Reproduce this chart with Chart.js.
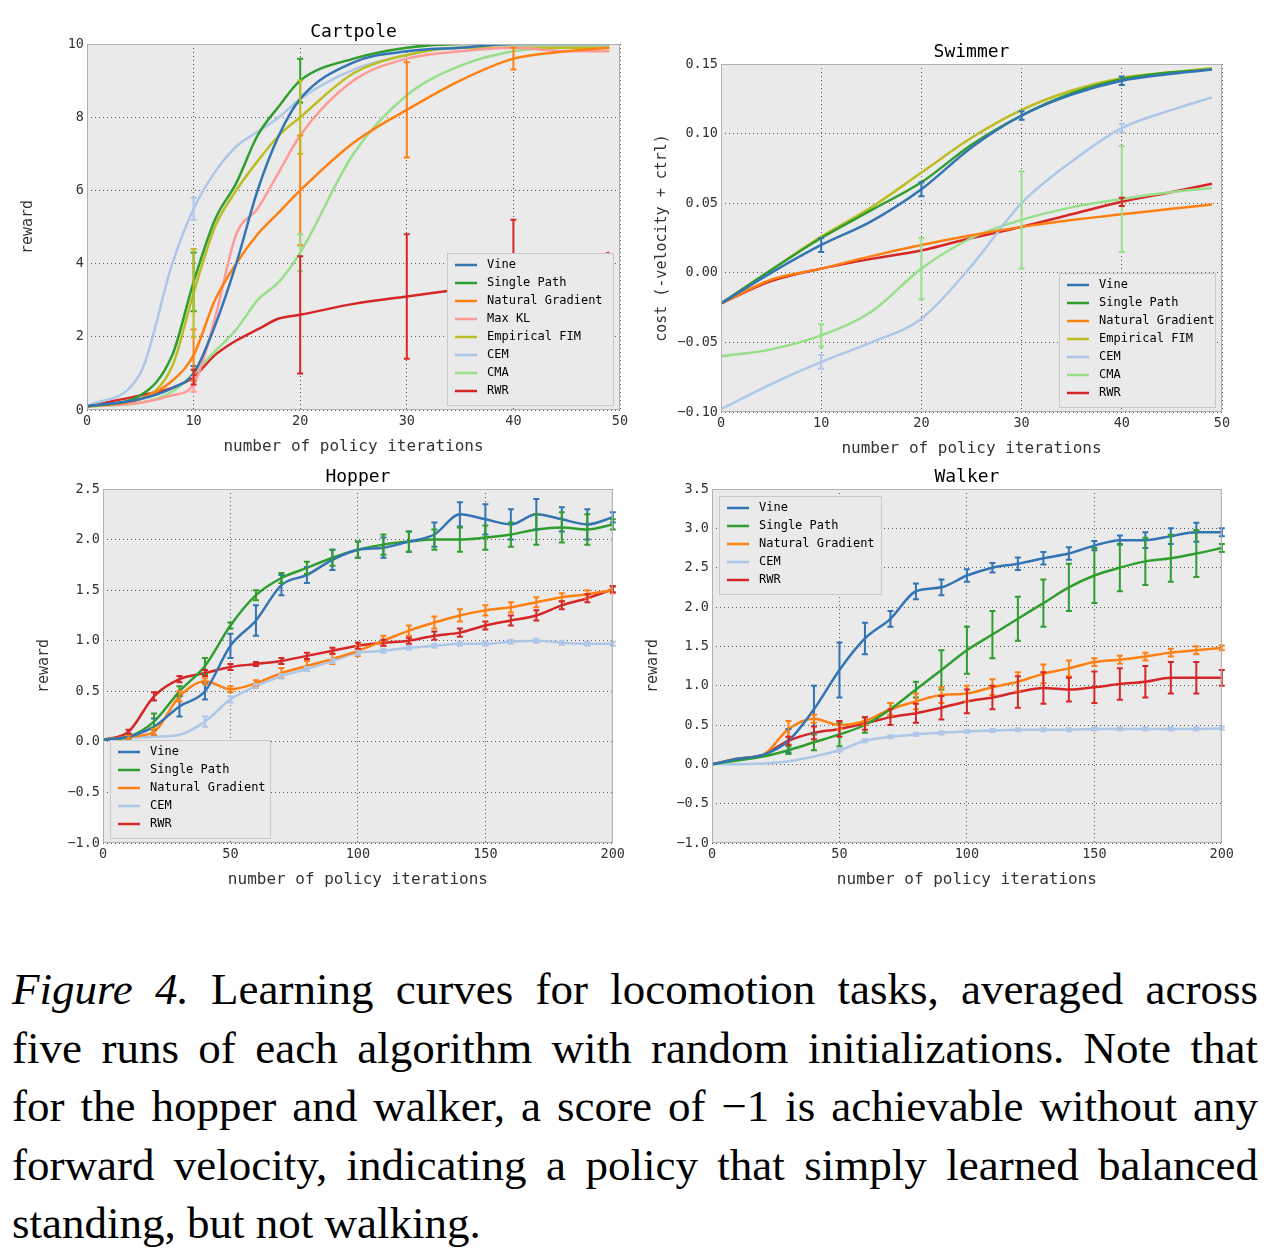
<!DOCTYPE html>
<html>
<head>
<meta charset="utf-8">
<script src="https://cdn.jsdelivr.net/npm/chart.js@4/dist/chart.umd.min.js"></script>
<style>
  body { margin: 0; background: #fff; width: 1276px; height: 1254px; position: relative; overflow: hidden; }
  canvas { position: absolute; }
  #caption { position: absolute; left: 12px; top: 960px; width: 1246px; font-family: "Liberation Serif", serif; font-size: 45px; line-height: 58.5px; color: #000; }
  #caption div { text-align: justify; text-align-last: justify; white-space: nowrap; }
  #caption div.last { text-align-last: left; }
</style>
</head>
<body>
<canvas id="cartpole"></canvas>
<canvas id="swimmer"></canvas>
<canvas id="hopper"></canvas>
<canvas id="walker"></canvas>
<div id="caption">
  <div><i>Figure 4.</i> Learning curves for locomotion tasks, averaged across</div>
  <div>five runs of each algorithm with random initializations. Note that</div>
  <div>for the hopper and walker, a score of −1 is achievable without any</div>
  <div>forward velocity, indicating a policy that simply learned balanced</div>
  <div class="last">standing, but not walking.</div>
</div>
<script>
// colours per algorithm
const colors = {
  "Vine": "#3274b4", "Single Path": "#2f9e2f", "Natural Gradient": "#ff8012",
  "Max KL": "#ff9a96", "Empirical FIM": "#bcbd22", "CEM": "#aec7e8",
  "CMA": "#98df8a", "RWR": "#d62728"
};

// ---- Cartpole ----
const cartX = [0, 5, 8, 10, 12, 14, 16, 18, 20, 25, 30, 35, 40, 45, 49];
const cartVine = [0.1, 0.3, 0.6, 1.0, 2.3, 4, 6, 7.5, 8.5, 9.5, 9.8, 9.9, 10, 10, 10];
const cartSingle = [0.1, 0.4, 1.5, 3.5, 5.2, 6.2, 7.5, 8.3, 9, 9.6, 9.9, 10, 10, 10, 10];
const cartNat = [0.1, 0.3, 0.8, 1.5, 3, 4, 4.8, 5.4, 6, 7.3, 8.2, 9, 9.6, 9.8, 9.9];
const cartMaxKL = [0.1, 0.2, 0.4, 0.7, 2.5, 4.8, 5.5, 6.5, 7.5, 9, 9.6, 9.8, 9.9, 9.8, 9.8];
const cartFIM = [0.1, 0.3, 1.2, 3.2, 5, 6, 6.8, 7.5, 8, 9.2, 9.7, 9.9, 9.9, 9.9, 9.9];
const cartCEM = [0.1, 1, 4, 5.5, 6.5, 7.2, 7.6, 8, 8.5, 9.3, 9.7, 9.9, 9.9, 9.9, 9.9];
const cartCMA = [0.1, 0.2, 0.5, 1, 1.6, 2.2, 3, 3.5, 4.3, 7, 8.6, 9.4, 9.8, 9.9, 9.9];
const cartRWR = [0.1, 0.4, 0.6, 0.9, 1.5, 1.9, 2.2, 2.5, 2.6, 2.9, 3.1, 3.3, 3.5, 3.9, 4.3];
const cartErr = {
  "Vine":             [0,0,0,0.2,0,0,0,0,0,0,0,0,0,0,0],
  "Single Path":      [0,0,0,0.8,0,0,0,0,0.6,0,0,0,0,0,0],
  "Natural Gradient": [0,0,0,0.7,0,0,0,0,1.5,0,1.3,0,0.3,0,0],
  "Max KL":           [0,0,0,0.2,0,0,0,0,0,0,0,0,0,0,0],
  "Empirical FIM":    [0,0,0,1.2,0,0,0,0,1.0,0,0,0,0,0,0],
  "CEM":              [0,0,0,0.3,0,0,0,0,0,0,0,0,0,0,0],
  "CMA":              [0,0,0,0,0,0,0,0,0.5,0,0,0,0,0,0],
  "RWR":              [0,0,0,0.2,0,0,0,0,1.6,0,1.7,0,1.7,0,0]
};

// ---- Swimmer ----
const swimX = [0, 5, 10, 15, 20, 25, 30, 35, 40, 45, 49];
const swimVine = [-0.022, 0.0, 0.02, 0.037, 0.06, 0.09, 0.113, 0.128, 0.138, 0.143, 0.146];
const swimSingle = [-0.022, 0.002, 0.025, 0.045, 0.065, 0.092, 0.113, 0.129, 0.139, 0.144, 0.146];
const swimNat = [-0.022, -0.005, 0.003, 0.012, 0.02, 0.027, 0.033, 0.038, 0.042, 0.046, 0.049];
const swimFIM = [-0.022, 0.002, 0.026, 0.047, 0.072, 0.097, 0.117, 0.131, 0.140, 0.144, 0.147];
const swimCEM = [-0.098, -0.08, -0.064, -0.05, -0.033, 0.005, 0.05, 0.08, 0.104, 0.117, 0.126];
const swimCMA = [-0.06, -0.055, -0.045, -0.028, 0.003, 0.025, 0.038, 0.047, 0.053, 0.058, 0.061];
const swimRWR = [-0.022, -0.006, 0.003, 0.01, 0.016, 0.025, 0.033, 0.042, 0.051, 0.058, 0.064];
const swimErr = {
  "Vine": [0,0,0.005,0,0.005,0,0.003,0,0.003,0,0],
  "CEM":  [0,0,0.005,0,0,0,0,0,0.003,0,0],
  "CMA":  [0,0,0.008,0,0.022,0,0.035,0,0.038,0,0],
  "RWR":  [0,0,0,0,0,0,0,0,0.003,0,0]
};

// ---- Hopper ----
const hopX = [0, 10, 20, 30, 40, 50, 60, 70, 80, 90, 100, 110, 120, 130, 140, 150, 160, 170, 180, 190, 200];
const hopVine = [0.02, 0.05, 0.15, 0.35, 0.5, 0.95, 1.2, 1.55, 1.65, 1.8, 1.9, 1.92, 1.98, 2.05, 2.25, 2.2, 2.15, 2.25, 2.2, 2.15, 2.22];
const hopSingle = [0.02, 0.05, 0.2, 0.5, 0.75, 1.15, 1.45, 1.62, 1.72, 1.82, 1.9, 1.95, 1.98, 2.0, 2.0, 2.02, 2.05, 2.1, 2.12, 2.1, 2.15];
const hopNat = [0.02, 0.05, 0.1, 0.45, 0.6, 0.52, 0.58, 0.68, 0.75, 0.82, 0.9, 1.0, 1.1, 1.18, 1.25, 1.3, 1.33, 1.38, 1.43, 1.46, 1.5];
const hopCEM = [0.02, 0.04, 0.05, 0.07, 0.2, 0.42, 0.55, 0.65, 0.72, 0.8, 0.88, 0.9, 0.93, 0.95, 0.97, 0.97, 0.99, 1.0, 0.98, 0.97, 0.97];
const hopRWR = [0.02, 0.1, 0.45, 0.62, 0.68, 0.74, 0.77, 0.8, 0.85, 0.9, 0.95, 0.98, 1.0, 1.05, 1.08, 1.15, 1.2, 1.25, 1.35, 1.42, 1.51];
const hopErr = {
  "Vine":             [0,0.03,0.08,0.1,0.08,0.12,0.15,0.1,0.08,0.1,0.08,0.1,0.1,0.12,0.12,0.15,0.15,0.15,0.12,0.15,0.05],
  "Single Path":      [0,0.03,0.08,0.05,0.08,0.03,0.05,0.05,0.06,0.08,0.08,0.1,0.1,0.1,0.12,0.12,0.12,0.15,0.15,0.15,0.05],
  "Natural Gradient": [0,0.02,0.03,0.05,0.03,0.03,0.03,0.05,0.05,0.05,0.05,0.05,0.05,0.06,0.06,0.05,0.05,0.05,0.04,0.04,0.03],
  "CEM":              [0,0,0,0,0.05,0.03,0.02,0.02,0.02,0.02,0.02,0.02,0.02,0.02,0.02,0.02,0.02,0.02,0.02,0.02,0.02],
  "RWR":              [0,0.02,0.04,0.03,0.03,0.03,0.02,0.03,0.03,0.03,0.03,0.03,0.03,0.04,0.04,0.04,0.05,0.05,0.04,0.04,0.03]
};

// ---- Walker ----
const walkX = [0, 10, 20, 30, 40, 50, 60, 70, 80, 90, 100, 110, 120, 130, 140, 150, 160, 170, 180, 190, 200];
const walkVine = [0, 0.07, 0.12, 0.3, 0.7, 1.2, 1.6, 1.85, 2.2, 2.25, 2.4, 2.5, 2.55, 2.62, 2.68, 2.78, 2.85, 2.85, 2.9, 2.95, 2.95];
const walkSingle = [0, 0.05, 0.1, 0.18, 0.28, 0.38, 0.5, 0.7, 0.95, 1.2, 1.45, 1.65, 1.85, 2.05, 2.25, 2.4, 2.5, 2.58, 2.62, 2.68, 2.75];
const walkNat = [0, 0.07, 0.12, 0.45, 0.58, 0.5, 0.55, 0.7, 0.8, 0.88, 0.9, 0.98, 1.05, 1.15, 1.22, 1.3, 1.33, 1.37, 1.42, 1.45, 1.48];
const walkCEM = [0, 0, 0.01, 0.04, 0.1, 0.18, 0.3, 0.35, 0.38, 0.4, 0.42, 0.43, 0.44, 0.44, 0.44, 0.45, 0.45, 0.45, 0.45, 0.45, 0.46];
const walkRWR = [0, 0.07, 0.12, 0.3, 0.4, 0.45, 0.52, 0.6, 0.65, 0.72, 0.8, 0.85, 0.92, 0.97, 0.95, 0.98, 1.02, 1.05, 1.1, 1.1, 1.1];
const walkErr = {
  "Vine":             [0,0,0,0.15,0.3,0.35,0.2,0.1,0.1,0.1,0.08,0.06,0.08,0.08,0.08,0.06,0.06,0.1,0.1,0.12,0.05],
  "Single Path":      [0,0,0,0.05,0.1,0.15,0.1,0.08,0.1,0.25,0.3,0.3,0.28,0.3,0.3,0.35,0.3,0.3,0.3,0.3,0.05],
  "Natural Gradient": [0,0,0,0.1,0.05,0.05,0.05,0.08,0.1,0.1,0.1,0.1,0.12,0.12,0.1,0.05,0.05,0.05,0.05,0.05,0.03],
  "CEM":              [0,0,0,0,0,0.02,0.02,0.02,0.02,0.02,0.02,0.02,0.02,0.02,0.02,0.02,0.02,0.02,0.02,0.02,0.02],
  "RWR":              [0,0,0,0.05,0.08,0.1,0.08,0.1,0.12,0.15,0.15,0.15,0.2,0.2,0.15,0.2,0.2,0.2,0.2,0.2,0.1]
};

const MONO = "'DejaVu Sans Mono', monospace";
const fmtMinus = s => s.replace('-', '\u2212');

const frame = {
  id: 'frame',
  beforeDraw(chart) {
    const { ctx, chartArea: a } = chart;
    ctx.save();
    ctx.fillStyle = '#eaeaea';
    ctx.fillRect(a.left, a.top, a.right - a.left, a.bottom - a.top);
    ctx.restore();
  },
  afterDatasetsDraw(chart) {
    const { ctx } = chart;
    const xs = chart.scales.x, ys = chart.scales.y;
    // error bars
    chart.data.datasets.forEach(ds => {
      if (!ds.err) return;
      ctx.save();
      ctx.strokeStyle = ds.borderColor;
      ctx.lineWidth = 2;
      ds.data.forEach((p, i) => {
        const e = ds.err[i];
        if (!e) return;
        const px = xs.getPixelForValue(p.x);
        const y1 = ys.getPixelForValue(p.y - e), y2 = ys.getPixelForValue(p.y + e);
        ctx.beginPath();
        ctx.moveTo(px, y1); ctx.lineTo(px, y2);
        ctx.moveTo(px - 3, y1); ctx.lineTo(px + 3, y1);
        ctx.moveTo(px - 3, y2); ctx.lineTo(px + 3, y2);
        ctx.stroke();
      });
      ctx.restore();
    });
  },
  afterDraw(chart) {
    const { ctx, chartArea: a } = chart;
    const o = chart.options.plugins.frame;
    ctx.save();
    ctx.strokeStyle = '#b0b0b0';
    ctx.lineWidth = 1;
    ctx.strokeRect(a.left + 0.5, a.top + 0.5, a.right - a.left - 1, a.bottom - a.top - 1);
    // title
    ctx.fillStyle = '#000';
    ctx.font = '18px ' + MONO;
    ctx.textAlign = 'center';
    ctx.textBaseline = 'bottom';
    ctx.fillText(o.title, (a.left + a.right) / 2, a.top - 3);
    // legend
    const labels = chart.data.datasets.map(d => d.label);
    ctx.font = '12px ' + MONO;
    const lh = 18, w = o.legendW, h = labels.length * lh + 8;
    let lx, ly;
    if (o.legendPos === 'lr') { lx = a.right - w - 7; ly = a.bottom - h - 5; }
    else if (o.legendPos === 'll') { lx = a.left + 7; ly = a.bottom - h - 5; }
    else { lx = a.left + 7; ly = a.top + 7; }
    ctx.fillStyle = '#eaeaea';
    ctx.strokeStyle = '#c8c8c8';
    ctx.fillRect(lx, ly, w, h);
    ctx.strokeRect(lx + 0.5, ly + 0.5, w, h);
    ctx.textAlign = 'left';
    ctx.textBaseline = 'middle';
    chart.data.datasets.forEach((d, i) => {
      const cy = ly + 12 + i * lh;
      ctx.strokeStyle = d.borderColor;
      ctx.lineWidth = 2.5;
      ctx.beginPath(); ctx.moveTo(lx + 8, cy); ctx.lineTo(lx + 30, cy); ctx.stroke();
      ctx.fillStyle = '#000';
      ctx.fillText(d.label, lx + 40, cy);
    });
    ctx.restore();
  }
};

function makeChart(id, box, opt) {
  const padL = 72, padT = 30, padR = 12, padB = 50;
  const cv = document.getElementById(id);
  const w = box.right - box.left + padL + padR, h = box.bottom - box.top + padT + padB;
  cv.style.left = (box.left - padL) + 'px';
  cv.style.top = (box.top - padT) + 'px';
  cv.style.width = w + 'px'; cv.style.height = h + 'px';
  cv.width = w; cv.height = h;
  const datasets = opt.series.map(s => ({
    label: s.label,
    data: opt.xs.map((x, i) => ({ x, y: s.values[i] })),
    err: opt.err[s.label],
    borderColor: colors[s.label],
    borderWidth: 2.5,
    pointRadius: 0,
    cubicInterpolationMode: 'monotone',
    fill: false
  }));
  const tickFont = { family: MONO, size: 13.5 };
  return new Chart(cv, {
    type: 'line',
    data: { datasets },
    plugins: [frame],
    options: {
      responsive: false,
      animation: false,
      layout: { padding: { top: padT, right: padR, left: 0, bottom: 0 } },
      plugins: {
        legend: { display: false }, tooltip: { enabled: false },
        frame: { title: opt.title, legendPos: opt.legendPos, legendW: opt.legendW }
      },
      scales: {
        x: {
          type: 'linear', min: opt.xMin, max: opt.xMax,
          ticks: { stepSize: opt.xStep, font: tickFont, color: '#333', maxRotation: 0 },
          grid: { color: '#333', drawTicks: false, lineWidth: 0.8 },
          border: { display: false, dash: [1, 3] },
          title: { display: true, text: 'number of policy iterations', font: { family: MONO, size: 16 }, color: '#333', padding: { top: 2 } },
          afterFit: s => { s.height = padB; }
        },
        y: {
          min: opt.yMin, max: opt.yMax,
          ticks: { stepSize: opt.yStep, font: tickFont, color: '#333', callback: v => fmtMinus(v.toFixed(opt.yDec)) },
          grid: { color: '#333', drawTicks: false, lineWidth: 0.8 },
          border: { display: false, dash: [1, 3] },
          title: { display: true, text: opt.yTitle, font: { family: MONO, size: 15 }, color: '#333' },
          afterFit: s => { s.width = padL; }
        }
      }
    }
  });
}

makeChart('cartpole', { left: 87, top: 44, right: 620, bottom: 410 }, {
  title: 'Cartpole', xs: cartX, xMin: 0, xMax: 50, xStep: 10, yMin: 0, yMax: 10, yStep: 2, yDec: 0,
  yTitle: 'reward', legendPos: 'lr', legendW: 166, err: cartErr,
  series: [
    { label: 'Vine', values: cartVine }, { label: 'Single Path', values: cartSingle },
    { label: 'Natural Gradient', values: cartNat }, { label: 'Max KL', values: cartMaxKL },
    { label: 'Empirical FIM', values: cartFIM }, { label: 'CEM', values: cartCEM },
    { label: 'CMA', values: cartCMA }, { label: 'RWR', values: cartRWR }
  ]
});
makeChart('swimmer', { left: 721, top: 64, right: 1222, bottom: 412 }, {
  title: 'Swimmer', xs: swimX, xMin: 0, xMax: 50, xStep: 10, yMin: -0.10, yMax: 0.15, yStep: 0.05, yDec: 2,
  yTitle: 'cost (-velocity + ctrl)', legendPos: 'lr', legendW: 156, err: swimErr,
  series: [
    { label: 'Vine', values: swimVine }, { label: 'Single Path', values: swimSingle },
    { label: 'Natural Gradient', values: swimNat }, { label: 'Empirical FIM', values: swimFIM },
    { label: 'CEM', values: swimCEM }, { label: 'CMA', values: swimCMA }, { label: 'RWR', values: swimRWR }
  ]
});
makeChart('hopper', { left: 103, top: 489, right: 616, bottom: 843 }, {
  title: 'Hopper', xs: hopX, xMin: 0, xMax: 200, xStep: 50, yMin: -1, yMax: 2.5, yStep: 0.5, yDec: 1,
  yTitle: 'reward', legendPos: 'll', legendW: 160, err: hopErr,
  series: [
    { label: 'Vine', values: hopVine }, { label: 'Single Path', values: hopSingle },
    { label: 'Natural Gradient', values: hopNat }, { label: 'CEM', values: hopCEM }, { label: 'RWR', values: hopRWR }
  ]
});
makeChart('walker', { left: 712, top: 489, right: 1225, bottom: 843 }, {
  title: 'Walker', xs: walkX, xMin: 0, xMax: 200, xStep: 50, yMin: -1, yMax: 3.5, yStep: 0.5, yDec: 1,
  yTitle: 'reward', legendPos: 'ul', legendW: 162, err: walkErr,
  series: [
    { label: 'Vine', values: walkVine }, { label: 'Single Path', values: walkSingle },
    { label: 'Natural Gradient', values: walkNat }, { label: 'CEM', values: walkCEM }, { label: 'RWR', values: walkRWR }
  ]
});
</script>
</body>
</html>
